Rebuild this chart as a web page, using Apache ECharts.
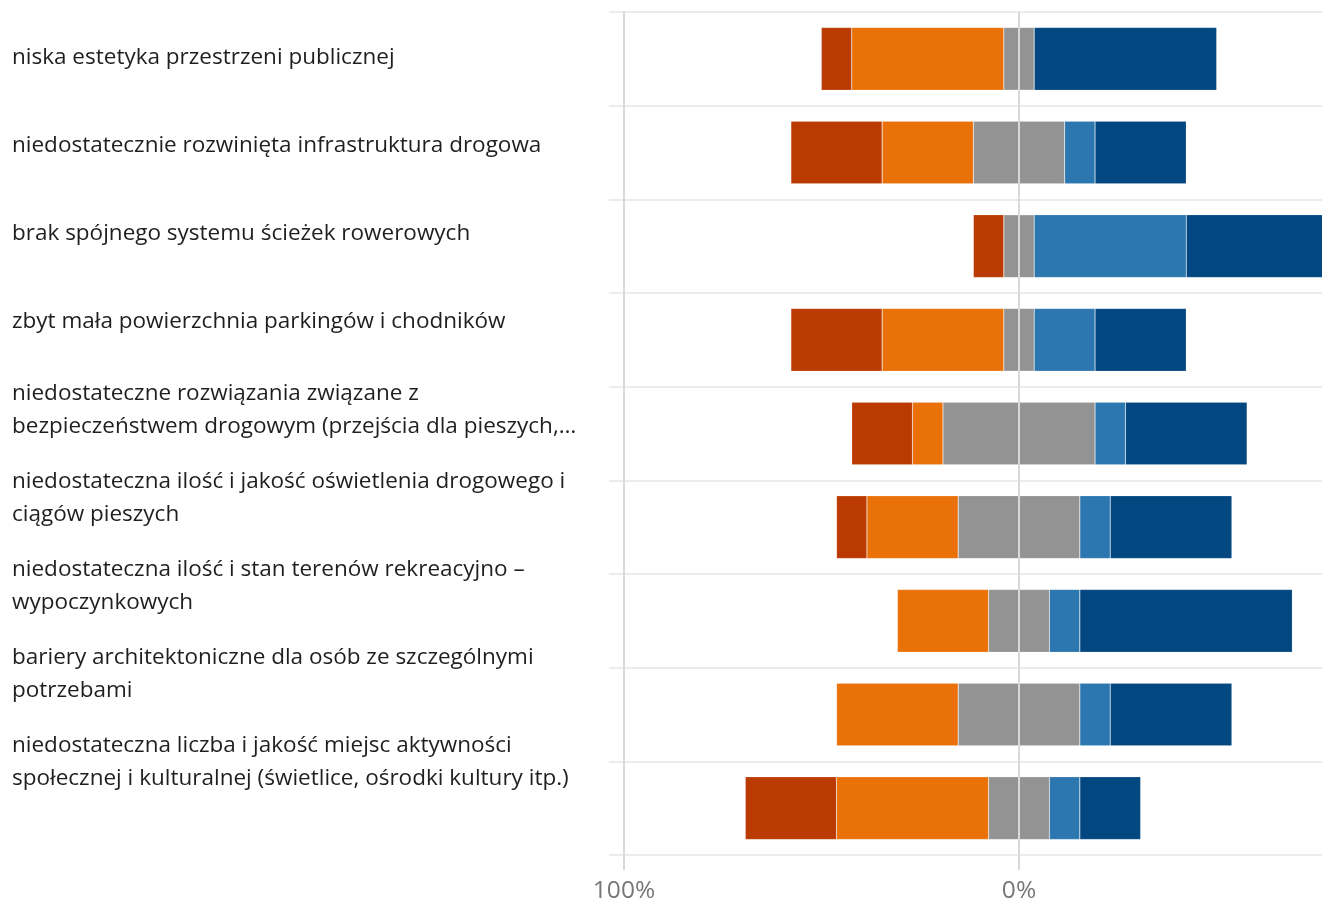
<!DOCTYPE html>
<html>
<head>
<meta charset="utf-8">
<script src="https://cdn.jsdelivr.net/npm/echarts@6/dist/echarts.min.js"></script>
<style>
  html, body { margin: 0; padding: 0; background: #ffffff; }
  #chart { width: 1322px; height: 902px; }
</style>
</head>
<body>
<div id="chart"></div>
<script>
// Categories (top to bottom), as displayed
var categories = [
  'niska estetyka przestrzeni publicznej',
  'niedostatecznie rozwinięta infrastruktura drogowa',
  'brak spójnego systemu ścieżek rowerowych',
  'zbyt mała powierzchnia parkingów i chodników',
  'niedostateczne rozwiązania związane z\nbezpieczeństwem drogowym (przejścia dla pieszych,…',
  'niedostateczna ilość i jakość oświetlenia drogowego i\nciągów pieszych',
  'niedostateczna ilość i stan terenów rekreacyjno –\nwypoczynkowych',
  'bariery architektoniczne dla osób ze szczególnymi\npotrzebami',
  'niedostateczna liczba i jakość miejsc aktywności\nspołecznej i kulturalnej (świetlice, ośrodki kultury itp.)'
];

// Shares of responses in percent
var stronglyNegative = [7.7, 23.1, 7.7, 23.1, 15.4, 7.7, 0, 0, 23.1];
var negative         = [38.5, 23.1, 0, 30.8, 7.7, 23.1, 23.1, 30.8, 38.5];
var neutral          = [7.7, 23.1, 7.7, 7.7, 38.5, 30.8, 15.4, 30.8, 15.4];
var positive         = [0, 7.7, 38.5, 15.4, 7.7, 7.7, 7.7, 7.7, 7.7];
var stronglyPositive = [46.2, 23.1, 46.2, 23.1, 30.8, 30.8, 53.8, 30.8, 15.4];

// Axis tick labels
var tickValues = [-100, 0];
var tickLabels = ['100%', '0%'];

var colors = {
  strongNeg: '#BA3A02',
  neg: '#EA7108',
  neutral: '#939393',
  pos: '#2C77AF',
  strongPos: '#024780'
};

function half(arr) { return arr.map(function (v) { return v / 2; }); }
function negate(arr) { return arr.map(function (v) { return -v; }); }

var chart = echarts.init(document.getElementById('chart'), null, { renderer: 'canvas' });

function barSeries(name, data, color) {
  return {
    name: name,
    type: 'bar',
    xAxisIndex: 2,
    yAxisIndex: 2,
    stack: 'total',
    barWidth: '67%',
    data: data,
    itemStyle: { color: color, borderColor: 'rgba(255,255,255,0.25)', borderWidth: 0.6 },
    emphasis: { disabled: true },
    silent: true
  };
}

var option = {
  animation: false,
  backgroundColor: '#ffffff',
  grid: [
    { left: 12, top: 14, height: 792, width: 1, outerBoundsMode: 'none' },
    { left: 609, right: 0, top: 12, height: 843, outerBoundsMode: 'none' },
    { left: 624, right: -92, top: 12, height: 843, outerBoundsMode: 'none' }
  ],
  xAxis: [
    { gridIndex: 0, type: 'value', show: false },
    { gridIndex: 1, type: 'value', show: false },
    {
      gridIndex: 2,
      type: 'value',
      min: -100,
      max: 100,
      interval: 100,
      z: 5,
      axisLine: { show: false },
      axisTick: { show: true, length: 15, lineStyle: { color: '#d9d9d9', width: 2 } },
      splitLine: { show: true, lineStyle: { color: '#d9d9d9', width: 2 } },
      axisLabel: {
        margin: 24,
        fontFamily: 'Open Sans',
        fontSize: 24.5,
        color: '#777777',
        formatter: function (v) {
          var i = tickValues.indexOf(v);
          return i >= 0 ? tickLabels[i] : '';
        }
      }
    }
  ],
  yAxis: [
    {
      gridIndex: 0,
      type: 'category',
      inverse: true,
      data: categories,
      axisLine: { show: false },
      axisTick: { show: false },
      splitLine: { show: false },
      axisLabel: {
        inside: true,
        margin: 0,
        align: 'left',
        fontFamily: 'Open Sans',
        fontSize: 22.5,
        lineHeight: 33,
        color: '#1f1f1f',
        interval: 0
      }
    },
    {
      gridIndex: 1,
      type: 'category',
      inverse: true,
      data: categories,
      axisLine: { show: false },
      axisTick: { show: false },
      axisLabel: { show: false },
      splitLine: { show: true, lineStyle: { color: '#e6e6e6', width: 1.5 } }
    },
    {
      gridIndex: 2,
      type: 'category',
      inverse: true,
      data: categories,
      show: false
    }
  ],
  series: [
    barSeries('neutral-left', negate(half(neutral)), colors.neutral),
    barSeries('negative', negate(negative), colors.neg),
    barSeries('strongly negative', negate(stronglyNegative), colors.strongNeg),
    barSeries('neutral-right', half(neutral), colors.neutral),
    barSeries('positive', positive, colors.pos),
    barSeries('strongly positive', stronglyPositive, colors.strongPos)
  ]
};

chart.setOption(option);
</script>
</body>
</html>
